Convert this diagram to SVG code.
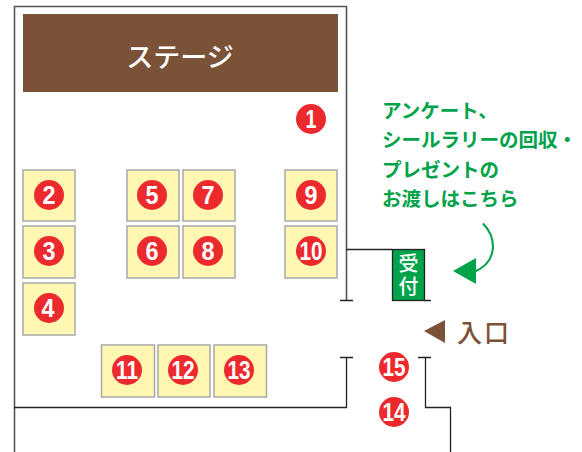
<svg xmlns="http://www.w3.org/2000/svg" width="582" height="452" viewBox="0 0 582 452">
<style>
.jp{font-family:"Noto Sans CJK JP","Noto Sans",sans-serif}
.cell{fill:#fff7b2;stroke:#a8a8a8;stroke-width:1.5}
.dot{fill:#ec2a2e}
.num{font-family:"Liberation Sans",Arial,sans-serif;font-weight:700;font-size:26px;fill:#fff;text-anchor:middle}
.wall{fill:none;stroke:#232323;stroke-width:1.3}
.thick{fill:none;stroke:#555;stroke-width:1.6}
.g{font-weight:700;font-size:19.500px;fill:#00a24a}
</style>
<g id="connectors">
<path class="thick" d="M14.500 452V6.500H346.500V300"/>
<path class="wall" d="M340 300.500H353M346.500 249.500H392M424 300.500H431M340 357.500H353M346.500 357.500V407.500H14M418 357.500H431M425.500 357.500V407.500H450.500V452"/>
<path d="M483 223.500C497 238 498 262 474 272" fill="none" stroke="#00a24a" stroke-width="2"/>
<polygon points="453,271 476,258 476,284" fill="#00a24a"/>
<polygon points="424,331 445,320 445,343" fill="#7a5238"/>
</g>
<g id="stage"><rect x="23" y="14" width="315" height="78" fill="#7a5238"/><text class="jp" x="180" y="67" font-size="27" font-weight="500" fill="#fff" text-anchor="middle">ステージ</text></g>
<g id="notice" class="jp">
<text class="g" x="382" y="118">アンケート、</text>
<text class="g" x="382" y="147">シールラリーの回収・</text>
<text class="g" x="382" y="177">プレゼントの</text>
<text class="g" x="382" y="206">お渡しはこちら</text>
</g>
<g id="reception"><rect x="392.500" y="249.500" width="32" height="51" fill="#00a24a" stroke="#232323" stroke-width="1.3"/><text class="jp" x="408.500" y="253" font-size="20" font-weight="500" fill="#fff" writing-mode="vertical-rl" letter-spacing="3">受付</text></g>
<g id="entrance"><text class="jp" x="457" y="342" font-size="25" font-weight="500" letter-spacing="2" fill="#7a5238">入口</text></g>
<g id="n1"><circle class="dot" cx="311" cy="119" r="15"/><text class="num" x="311" y="128" textLength="11" lengthAdjust="spacingAndGlyphs">1</text></g>
<g id="n2"><rect class="cell" x="23" y="170" width="52" height="51"/><circle class="dot" cx="49" cy="195" r="15"/><text class="num" x="49" y="204" textLength="13" lengthAdjust="spacingAndGlyphs">2</text></g>
<g id="n3"><rect class="cell" x="23" y="226" width="52" height="52"/><circle class="dot" cx="49" cy="251" r="15"/><text class="num" x="49" y="260" textLength="13" lengthAdjust="spacingAndGlyphs">3</text></g>
<g id="n4"><rect class="cell" x="23" y="283" width="52" height="52"/><circle class="dot" cx="49" cy="308" r="15"/><text class="num" x="48" y="317" textLength="13" lengthAdjust="spacingAndGlyphs">4</text></g>
<g id="n5"><rect class="cell" x="127" y="170" width="52" height="51"/><circle class="dot" cx="152" cy="195" r="15"/><text class="num" x="152" y="204" textLength="13" lengthAdjust="spacingAndGlyphs">5</text></g>
<g id="n6"><rect class="cell" x="127" y="226" width="52" height="52"/><circle class="dot" cx="152" cy="251" r="15"/><text class="num" x="152" y="260" textLength="13" lengthAdjust="spacingAndGlyphs">6</text></g>
<g id="n7"><rect class="cell" x="183" y="170" width="52" height="51"/><circle class="dot" cx="208" cy="195" r="15"/><text class="num" x="208" y="204" textLength="13" lengthAdjust="spacingAndGlyphs">7</text></g>
<g id="n8"><rect class="cell" x="183" y="226" width="52" height="52"/><circle class="dot" cx="208" cy="251" r="15"/><text class="num" x="208" y="260" textLength="13" lengthAdjust="spacingAndGlyphs">8</text></g>
<g id="n9"><rect class="cell" x="285" y="170" width="52" height="51"/><circle class="dot" cx="311" cy="195" r="15"/><text class="num" x="311" y="204" textLength="13" lengthAdjust="spacingAndGlyphs">9</text></g>
<g id="n10"><rect class="cell" x="285" y="226" width="52" height="52"/><circle class="dot" cx="311" cy="251" r="15"/><text class="num" x="311" y="260" textLength="23" lengthAdjust="spacingAndGlyphs">10</text></g>
<g id="n11"><rect class="cell" x="101.500" y="345" width="53" height="52"/><circle class="dot" cx="127" cy="370" r="15"/><text class="num" x="127" y="379" textLength="22" lengthAdjust="spacingAndGlyphs">11</text></g>
<g id="n12"><rect class="cell" x="158" y="345" width="52" height="52"/><circle class="dot" cx="183" cy="370" r="15"/><text class="num" x="183" y="379" textLength="23" lengthAdjust="spacingAndGlyphs">12</text></g>
<g id="n13"><rect class="cell" x="214" y="345" width="52.500" height="52"/><circle class="dot" cx="239" cy="370" r="15"/><text class="num" x="239" y="379" textLength="23" lengthAdjust="spacingAndGlyphs">13</text></g>
<g id="n14"><circle class="dot" cx="394" cy="412" r="15"/><text class="num" x="394" y="421" textLength="23" lengthAdjust="spacingAndGlyphs">14</text></g>
<g id="n15"><circle class="dot" cx="394" cy="367" r="15"/><text class="num" x="394" y="376" textLength="23" lengthAdjust="spacingAndGlyphs">15</text></g>
</svg>
